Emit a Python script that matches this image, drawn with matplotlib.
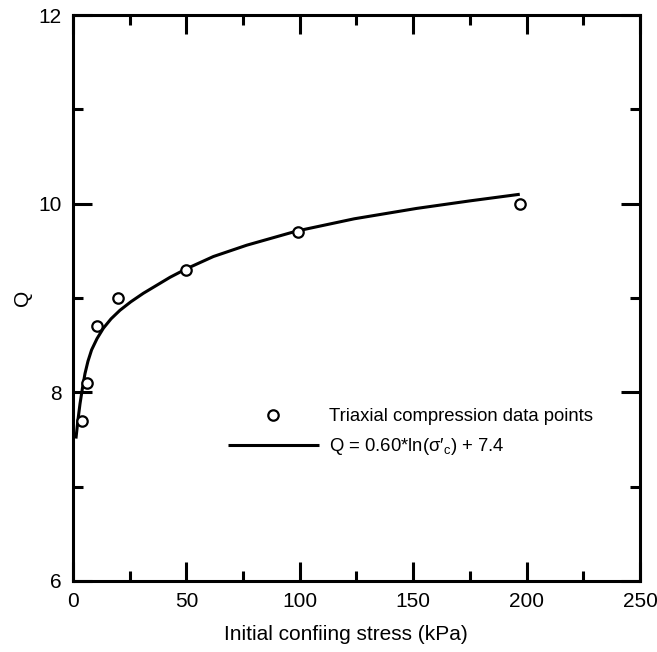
import numpy as np
import matplotlib
matplotlib.use('Agg')
import matplotlib.pyplot as plt
from matplotlib.ticker import MultipleLocator

# triaxial compression data points
stress = [4, 6, 10.6, 20, 50, 99, 197]
q_data = [7.7, 8.1, 8.7, 9.0, 9.3, 9.7, 10.0]

# fitted curve
fit_stress = [1.3, 2.2, 3.1, 4.2, 5.3, 6.6, 8.2, 10.6, 13.4, 16.8, 20.7,
              25.5, 31, 42.8, 50, 61.9, 76.6, 98.6, 124, 151.5, 175, 197]
fit_q = [7.51, 7.71, 7.88, 8.05, 8.20, 8.33, 8.45, 8.57, 8.68, 8.78, 8.87,
         8.96, 9.05, 9.22, 9.31, 9.44, 9.56, 9.71, 9.84, 9.95, 10.03, 10.10]

plt.rcParams['font.family'] = ['Liberation Sans', 'DejaVu Sans']
plt.rcParams['font.size'] = 15
plt.rcParams['mathtext.fontset'] = 'custom'
plt.rcParams['mathtext.rm'] = 'Liberation Sans'
plt.rcParams['mathtext.it'] = 'Liberation Sans'

fig = plt.figure(figsize=(6.57, 6.52), dpi=100)
ax = fig.add_axes([0.1111, 0.1089, 0.863, 0.868])

ax.plot(fit_stress, fit_q, color='black', linewidth=2.2,
        solid_joinstyle='round', solid_capstyle='butt',
        label='Q = 0.60*ln(\u03c3\u2032$_{\\rm c}$) + 7.4')
ax.plot(stress, q_data, linestyle='none', marker='o', markersize=7.5,
        markerfacecolor='white', markeredgecolor='black',
        markeredgewidth=1.6, label='Triaxial compression data points')

ax.set_xlim(0, 250)
ax.set_ylim(6, 12)
ax.xaxis.set_major_locator(MultipleLocator(50))
ax.xaxis.set_minor_locator(MultipleLocator(25))
ax.yaxis.set_major_locator(MultipleLocator(2))
ax.yaxis.set_minor_locator(MultipleLocator(1))
ax.tick_params(which='both', direction='in', top=True, right=True,
               width=2.2, color='black')
ax.tick_params(which='major', length=14, pad=8)
ax.tick_params(which='minor', length=7)
for s in ax.spines.values():
    s.set_linewidth(2.2)

ax.set_xlabel('Initial confiing stress (kPa)', labelpad=10)
ax.xaxis.label.set_x(0.481)
ax.set_ylabel('Q', labelpad=5)

h, l = ax.get_legend_handles_labels()
ax.legend(h[::-1], l[::-1], loc='upper left', bbox_to_anchor=(0.273, 0.305),
          frameon=False, fontsize=13.3, handlelength=4.95,
          handletextpad=0.55, borderpad=0, borderaxespad=0,
          labelspacing=0.58)

plt.savefig('out.png', dpi=100)
